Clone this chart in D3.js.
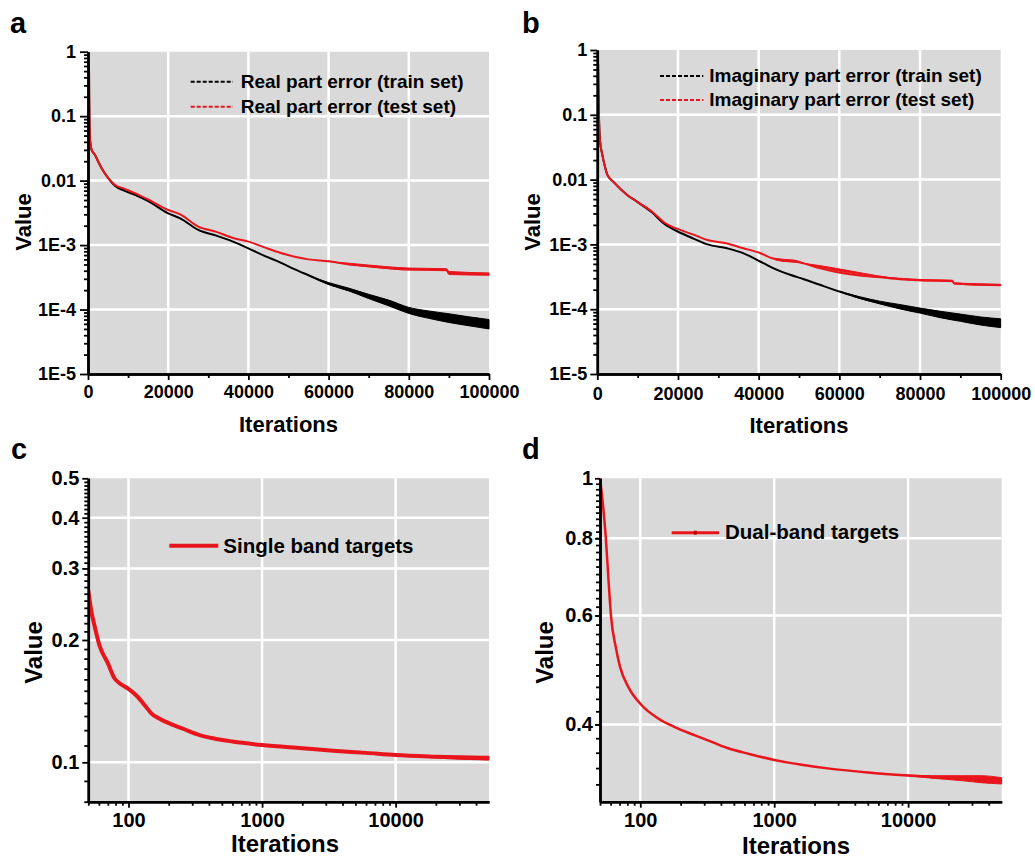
<!DOCTYPE html>
<html><head><meta charset="utf-8">
<script src="https://cdn.jsdelivr.net/npm/d3@7"></script>
<style>
body{margin:0;background:#fff}
svg{display:block}
text{font-family:"Liberation Sans",Arial,Helvetica,sans-serif;font-weight:bold;fill:#000}
</style>
</head><body>
<svg id="fig" width="1035" height="859"></svg>
<script>
// ---------------- DATA ----------------
// Panel a: real part error vs iterations  [iteration, value]
const realTrain = [[250,0.6],[300,0.2],[350,0.1],[450,0.05],[600,0.038],[900,0.03],[1750,0.025],[2500,0.02],[3400,0.0155],[5000,0.011],[6700,0.0083],[9000,0.0070],[11700,0.006],[15000,0.0048],[20000,0.0031],[23000,0.0026],[27500,0.00172],[32000,0.0014],[36000,0.00114],[40000,0.00089],[44000,0.00068],[47900,0.00054],[51600,0.00042],[55000,0.00034],[60000,0.00025],[65000,0.0002],[70000,0.000155],[75000,0.00012],[80000,0.000092],[85000,0.000078],[90000,0.000068],[95000,0.00006],[100000,0.000055]];
const realTest = [[250,0.6],[300,0.2],[350,0.1],[450,0.05],[600,0.038],[900,0.03],[1750,0.025],[2500,0.02],[3400,0.0155],[5000,0.011],[6700,0.0086],[9000,0.0075],[11700,0.0064],[15000,0.0051],[20000,0.0035],[23000,0.003],[27500,0.00194],[32000,0.0016],[36000,0.0013],[40000,0.00113],[44000,0.00092],[47900,0.00076],[51600,0.00066],[55000,0.0006],[60000,0.00056],[65000,0.0005],[70000,0.00047],[75000,0.00044],[80000,0.00042],[85000,0.00042],[89400,0.00041],[90000,0.00037],[95000,0.00036],[100000,0.000357]];
// noise envelopes [iteration, low, high]
const realTrainNoise = [[55000,0.00034,0.00034],[60000,0.000245,0.000262],[65000,0.000195,0.000215],[70000,0.000148,0.000172],[75000,0.000114,0.00014],[80000,0.000087,0.000108],[85000,0.000073,0.000095],[90000,0.000063,0.000086],[95000,0.000056,0.000077],[100000,0.00005,0.00007]];
const realTestNoise = [[60000,0.00056,0.00056],[70000,0.00046,0.00049],[80000,0.00041,0.00044],[89400,0.0004,0.00043],[90000,0.00035,0.00039],[100000,0.00034,0.00037]];

// Panel b: imaginary part error vs iterations
const imagTrain = [[200,0.6],[300,0.2],[400,0.1],[670,0.04],[1200,0.025],[2000,0.015],[2500,0.0118],[4000,0.0092],[7400,0.0058],[10000,0.0045],[13600,0.0031],[16500,0.0021],[20700,0.0015],[24000,0.00122],[27300,0.001],[32200,0.00087],[36000,0.00074],[40500,0.00054],[44000,0.00042],[47800,0.00034],[51200,0.00029],[55000,0.00024],[60200,0.000186],[65000,0.00015],[70000,0.000125],[75000,0.000105],[80000,0.000091],[85000,0.000078],[90000,0.000068],[95000,0.00006],[100000,0.000056]];
const imagTest = [[200,0.6],[300,0.2],[400,0.1],[670,0.04],[1200,0.025],[2000,0.015],[2500,0.0118],[4000,0.0092],[7400,0.0058],[10000,0.0045],[13600,0.0032],[16500,0.0022],[20700,0.00166],[24000,0.0014],[27300,0.00117],[32200,0.00103],[36000,0.00088],[40500,0.00073],[43000,0.00062],[46000,0.00056],[49000,0.00055],[51200,0.00051],[55000,0.00043],[60200,0.000366],[65000,0.00033],[70000,0.00031],[75000,0.00029],[80000,0.00028],[88000,0.000272],[88500,0.00025],[95000,0.00024],[100000,0.000236]];
const imagTrainNoise = [[60200,0.000186,0.000186],[65000,0.000147,0.000156],[70000,0.000121,0.000133],[75000,0.000101,0.000118],[80000,0.000087,0.000104],[85000,0.000074,0.000093],[90000,0.000065,0.000084],[95000,0.000057,0.000076],[100000,0.000052,0.000071]];
const imagTestNoise = [[43000,0.00062,0.00062],[46000,0.00055,0.00059],[49000,0.00053,0.00057],[51200,0.00051,0.00051],[80000,0.000275,0.000288],[88000,0.000266,0.00028],[88500,0.000245,0.000256],[100000,0.00023,0.000242]];

// Panel c: single band targets
const singleBand = [[50,0.265],[52.5,0.237],[56,0.215],[60.6,0.194],[70,0.1755],[78.5,0.161],[85.6,0.1566],[98.8,0.152],[117,0.145],[135,0.137],[148,0.132],[171,0.128],[210,0.124],[255,0.121],[341,0.1167],[429,0.1146],[600,0.1125],[1000,0.1103],[2000,0.1083],[3400,0.1068],[6000,0.1055],[10000,0.1042],[20000,0.1032],[50000,0.1023]];
const singleBandNoise = [[10000,0.1042,0.1042],[30000,0.1018,0.1036],[50000,0.1013,0.1035]];

// Panel d: dual-band targets
const dualBand = [[50,1.0],[52,0.93],[55.2,0.804],[58,0.68],[60.5,0.597],[65.5,0.534],[70.5,0.496],[81.3,0.46],[102,0.43],[136,0.409],[181,0.396],[256,0.384],[361,0.373],[454,0.366],[650,0.3584],[1000,0.3505],[1600,0.3443],[2680,0.339],[5000,0.3345],[10000,0.3307],[20000,0.3276],[50000,0.3246]];
const dualBandNoise = [[8000,0.332,0.332],[15000,0.3275,0.3305],[25000,0.3245,0.3305],[35000,0.322,0.3305],[50000,0.3205,0.328]];

// Tick labels
const errTickValues = [1,0.1,0.01,1e-3,1e-4,1e-5];
const errTickLabels = ["1","0.1","0.01","1E-3","1E-4","1E-5"];
const linIterTicks = [0,20000,40000,60000,80000,100000];
const linIterLabels = ["0","20000","40000","60000","80000","100000"];
const logIterTicks = [100,1000,10000];
const logIterLabels = ["100","1000","10000"];
const singleTickValues = [0.5,0.4,0.3,0.2,0.1];
const singleTickLabels = ["0.5","0.4","0.3","0.2","0.1"];
const dualTickValues = [1,0.8,0.6,0.4];
const dualTickLabels = ["1","0.8","0.6","0.4"];

const legendA = ["Real part error (train set)","Real part error (test set)"];
const legendB = ["Imaginary part error (train set)","Imaginary part error (test set)"];
const legendC = "Single band targets";
const legendD = "Dual-band targets";

// ---------------- DRAWING ----------------
const RED = "#e8161c", BLACK = "#000", GRAY = "#d9d9d9";
const svg = d3.select("#fig");
svg.append("rect").attr("width",1035).attr("height",859).attr("fill","#fff");

const logMinor = (lo, hi) => {
  const out = [];
  for (let e = Math.floor(Math.log10(lo)); e <= Math.ceil(Math.log10(hi)); e++) {
    for (let m = 2; m <= 9; m++) { const v = m * Math.pow(10, e); if (v > lo*1.0001 && v < hi*0.9999) out.push(v); }
  }
  return out;
};

function drawPanel(p) {
  const g = svg.append("g");
  const x = (p.xlog ? d3.scaleLog() : d3.scaleLinear()).domain(p.xDomain).range([p.left, p.right]);
  const y = d3.scaleLog().domain(p.yDomain).range([p.bottom, p.top]);

  g.append("rect").attr("x",p.left).attr("y",p.top).attr("width",p.right-p.left).attr("height",p.bottom-p.top).attr("fill",GRAY);

  const grid = g.append("g").attr("stroke","#fff").attr("stroke-width",2.5);
  p.xGrid.forEach(v => grid.append("line").attr("x1",x(v)).attr("x2",x(v)).attr("y1",p.top).attr("y2",p.bottom));
  p.yGrid.forEach(v => grid.append("line").attr("x1",p.left).attr("x2",p.right).attr("y1",y(v)).attr("y2",y(v)));

  const cid = "clip" + p.id;
  svg.append("clipPath").attr("id",cid).append("rect").attr("x",p.left).attr("y",p.top-3).attr("width",p.right-p.left+1).attr("height",p.bottom-p.top+3);
  const plot = g.append("g").attr("clip-path",`url(#${cid})`);
  const area = d3.area().x(d=>x(d[0])).y0(d=>y(d[1])).y1(d=>y(d[2])).curve(d3.curveMonotoneX);
  const line = d3.line().x(d=>x(d[0])).y(d=>y(d[1])).curve(d3.curveMonotoneX);
  p.series.forEach(s => {
    if (s.noise) plot.append("path").attr("d",area(s.noise)).attr("fill",s.color).attr("stroke",s.color).attr("stroke-width",1);
    plot.append("path").attr("d",line(s.data)).attr("fill","none").attr("stroke",s.color).attr("stroke-width",s.width).attr("stroke-linejoin","round");
  });

  // axes
  const styleAxis = sel => {
    sel.selectAll("path.domain").attr("stroke","#000").attr("stroke-width",2.5);
    sel.selectAll(".tick line").attr("stroke","#000").attr("stroke-width",1.8);
    sel.selectAll(".tick text").style("font-size",p.tickFont+"px").style("font-weight","bold").attr("fill","#000");
  };
  g.append("g").attr("transform",`translate(${p.left},0)`)
    .call(d3.axisLeft(y).tickValues(p.yMinor).tickSize(4).tickSizeOuter(0).tickFormat("")).call(styleAxis);
  g.append("g").attr("transform",`translate(${p.left},0)`)
    .call(d3.axisLeft(y).tickValues(p.yTicks).tickSize(p.ytick).tickPadding(p.ypad).tickSizeOuter(0).tickFormat((d,i)=>p.yLabels[i])).call(styleAxis);
  g.append("g").attr("transform",`translate(0,${p.bottom})`)
    .call(d3.axisBottom(x).tickValues(p.xMinor).tickSize(4).tickSizeOuter(0).tickFormat("")).call(styleAxis);
  const xa = g.append("g").attr("transform",`translate(0,${p.bottom})`)
    .call(d3.axisBottom(x).tickValues(p.xTicks).tickSize(6).tickPadding(p.xpad).tickSizeOuter(0).tickFormat((d,i)=>p.xLabels[i])).call(styleAxis);
  xa.selectAll(".tick text").attr("dy",null).attr("y",p.xLabelBase - p.bottom);

  // titles
  g.append("text").attr("x",p.xTitleX).attr("y",p.xTitleY).attr("text-anchor","middle").style("font-size",p.titleFont+"px").text("Iterations");
  g.append("text").attr("transform",`translate(${p.yTitleX},${p.yTitleY}) rotate(-90)`).attr("text-anchor","middle").style("font-size",p.titleFont+"px").text("Value");
  g.append("text").attr("x",p.letterX).attr("y",p.letterY).style("font-size","29px").text(p.id);

  // legend
  p.legend.forEach(L => {
    const ln = g.append("line").attr("x1",L.x1).attr("x2",L.x2).attr("y1",L.y).attr("y2",L.y).attr("stroke",L.color).attr("stroke-width",L.w);
    if (L.dash) ln.attr("stroke-dasharray",L.dash);
    if (L.marker) g.append("rect").attr("x",(L.x1+L.x2)/2-1.5).attr("y",L.y-2).attr("width",3).attr("height",4).attr("fill","#b00");
    g.append("text").attr("x",L.tx).attr("y",L.ty).style("font-size",L.font+"px").text(L.text);
  });
}

const errMinor = logMinor(1e-5, 1);
const linMinor = [10000,30000,50000,70000,90000];
const logXMinor = logMinor(50, 50000).concat([50]);

drawPanel({
  id:"a", left:88, right:489, top:51.7, bottom:374, xlog:false,
  xDomain:[0,100000], yDomain:[1e-5,1],
  xGrid:[20000,40000,60000,80000], yGrid:[0.1,0.01,1e-3,1e-4],
  yTicks:errTickValues, yLabels:errTickLabels, yMinor:errMinor, ytick:8, ypad:4,
  xTicks:linIterTicks, xLabels:linIterLabels, xMinor:linMinor, xpad:4, xLabelBase:398,
  tickFont:18, titleFont:22,
  xTitleX:288.5, xTitleY:432, yTitleX:31, yTitleY:222, letterX:10, letterY:33,
  series:[{data:realTrain, noise:realTrainNoise, color:BLACK, width:2},{data:realTest, noise:realTestNoise, color:RED, width:2}],
  legend:[
    {x1:190.7,x2:233,y:81.7,color:BLACK,w:2,dash:"4,2",tx:240.7,ty:88.3,font:19,text:legendA[0]},
    {x1:190.7,x2:233,y:106.7,color:RED,w:2,dash:"4,2",tx:240.7,ty:113.3,font:19,text:legendA[1]}
  ]
});

drawPanel({
  id:"b", left:597.3, right:1000.7, top:50, bottom:374, xlog:false,
  xDomain:[0,100000], yDomain:[1e-5,1],
  xGrid:[20000,40000,60000,80000], yGrid:[0.1,0.01,1e-3,1e-4],
  yTicks:errTickValues, yLabels:errTickLabels, yMinor:errMinor, ytick:7, ypad:3,
  xTicks:linIterTicks, xLabels:linIterLabels, xMinor:linMinor, xpad:4, xLabelBase:400,
  tickFont:18, titleFont:22,
  xTitleX:799, xTitleY:433, yTitleX:540, yTitleY:222, letterX:522, letterY:33,
  series:[{data:imagTrain, noise:imagTrainNoise, color:BLACK, width:2},{data:imagTest, noise:imagTestNoise, color:RED, width:2}],
  legend:[
    {x1:660,x2:703.3,y:76,color:BLACK,w:2,dash:"4,2",tx:709.3,ty:81.7,font:19,text:legendB[0]},
    {x1:660,x2:703.3,y:100,color:RED,w:2,dash:"4,2",tx:709.3,ty:106,font:19,text:legendB[1]}
  ]
});

drawPanel({
  id:"c", left:88.3, right:489, top:478.3, bottom:801.7, xlog:true,
  xDomain:[50,50000], yDomain:[0.08,0.5],
  xGrid:[100,1000,10000], yGrid:[0.1,0.2,0.3,0.4],
  yTicks:singleTickValues, yLabels:singleTickLabels, yMinor:d3.range(8,50).map(v=>v/100).filter(v=>v%0.1>0.001&&v%0.1<0.099), ytick:6, ypad:3,
  xTicks:logIterTicks, xLabels:logIterLabels, xMinor:logXMinor, xpad:4, xLabelBase:827,
  tickFont:20, titleFont:24,
  xTitleX:285, xTitleY:852, yTitleX:41.5, yTitleY:652.5, letterX:11, letterY:459,
  series:[{data:singleBand, noise:singleBandNoise, color:RED, width:4}],
  legend:[
    {x1:169.3,x2:218.3,y:545.7,color:RED,w:4,tx:223.3,ty:552.7,font:20.5,text:legendC}
  ]
});

drawPanel({
  id:"d", left:600, right:1001.7, top:478.3, bottom:801.7, xlog:true,
  xDomain:[50,50000], yDomain:[0.3,1],
  xGrid:[100,1000,10000], yGrid:[0.4,0.6,0.8],
  yTicks:dualTickValues, yLabels:dualTickLabels, yMinor:d3.range(32,100,2).map(v=>v/100), ytick:5, ypad:2,
  xTicks:logIterTicks, xLabels:logIterLabels, xMinor:logXMinor, xpad:4, xLabelBase:827,
  tickFont:20, titleFont:24,
  xTitleX:796, xTitleY:854, yTitleX:553, yTitleY:652.5, letterX:522, letterY:459,
  series:[{data:dualBand, noise:dualBandNoise, color:RED, width:2.5}],
  legend:[
    {x1:671.7,x2:719,y:532.7,color:RED,w:3,marker:true,tx:725,ty:539.3,font:20.5,text:legendD}
  ]
});
</script>
</body></html>
